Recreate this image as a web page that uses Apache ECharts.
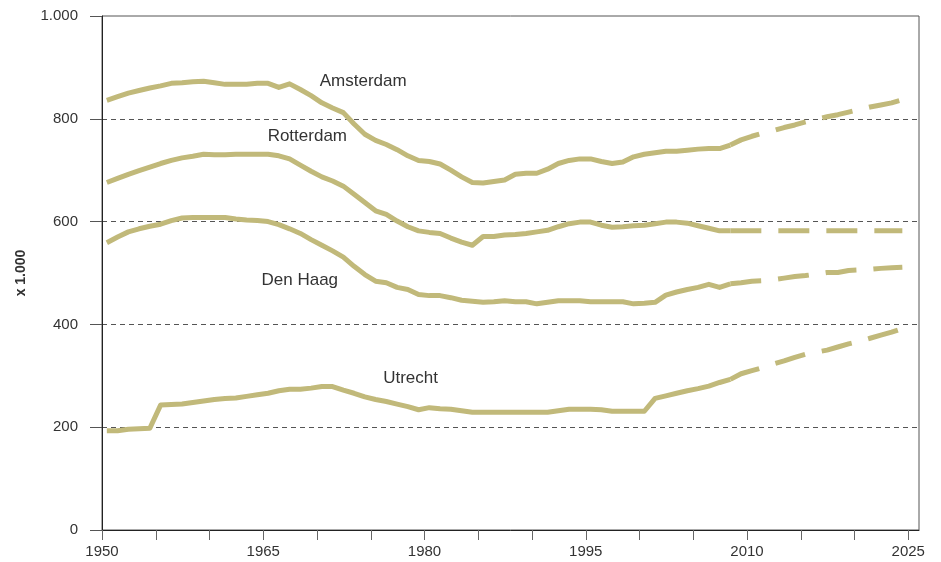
<!doctype html>
<html lang="nl">
<head>
    <meta charset="UTF-8">
    <script src="https://cdn.jsdelivr.net/npm/echarts@6/dist/echarts.min.js"></script>
    <title>Bevolking vier grote steden</title>
    <style>
        html, body { margin: 0; padding: 0; background: #fff; }
    </style>
</head>
<body>
<div id="steden" style="width: 941px;height:562px;"></div>
<script>
    // jaren 1950 t/m 2024, x 1.000 inwoners
    var firstYear = 1950;
    var projectionFrom = 2008; // vanaf hier gestippeld (prognose)
    var yearShift = 0.45;      // punten staan iets rechts van de jaarstreep

    var amsterdam = [
        836, 843, 850, 855, 860, 864, 869, 870, 872, 873,
        870, 867, 867, 867, 869, 869, 861, 868, 857, 845,
        831, 821, 812, 790, 770, 758, 750, 740, 728, 719,
        717, 712, 700, 687, 676, 675, 678, 681, 692, 694,
        694, 702, 713, 719, 722, 722, 717, 713, 716, 726,
        731, 734, 737, 737, 739, 741, 742, 742, 749, 759,
        766, 772, 777, 783, 788, 794, 799, 804, 808, 813,
        818, 823, 827, 831, 837
    ];
    var rotterdam = [
        676, 684, 692, 699, 706, 713, 719, 724, 727, 731,
        730, 730, 731, 731, 731, 731, 728, 722, 710, 698,
        687, 679, 669, 653, 637, 621, 614, 601, 590, 582,
        579, 577, 568, 560, 554, 571, 571, 574, 575, 577,
        580, 583, 590, 596, 599, 599, 593, 589, 590, 592,
        593, 596, 599, 599, 597, 592, 587, 582, 582, 582,
        582, 582, 582, 582, 582, 582, 582, 582, 582, 582,
        582, 582, 582, 582, 582
    ];
    var denHaag = [
        559, 570, 580, 586, 591, 595, 602, 607, 608, 608,
        608, 608, 605, 603, 602, 600, 594, 586, 577, 565,
        554, 543, 531, 513, 497, 484, 481, 472, 468, 458,
        456, 456, 452, 447, 445, 443, 444, 446, 444, 444,
        440, 443, 446, 446, 446, 444, 444, 444, 444, 440,
        441, 443, 457, 463, 468, 472, 478, 472, 479, 481,
        484, 485, 487, 490, 493, 495, 498, 501, 501, 505,
        506, 507, 509, 510, 511
    ];
    var utrecht = [
        193, 193, 196, 197, 198, 243, 244, 245, 248, 251,
        254, 256, 257, 260, 263, 266, 271, 274, 274, 276,
        279, 279, 272, 266, 259, 254, 250, 245, 240, 234,
        238, 236, 235, 232, 229, 229, 229, 229, 229, 229,
        229, 229, 232, 235, 235, 235, 234, 231, 231, 231,
        231, 256, 261, 266, 271, 275, 280, 287, 293, 304,
        310, 316, 323, 329, 336, 342, 346, 350, 356, 362,
        367, 373, 379, 385, 392
    ];

    var tickYears = [1950, 1955, 1960, 1965, 1970, 1975, 1980, 1985, 1990, 1995, 2000, 2005, 2010, 2015, 2020, 2025];
    var labelYears = [1950, 1965, 1980, 1995, 2010, 2025];

    var lineColor = '#c1b97a';
    var textColor = '#333';
    var fontFamily = '"Liberation Sans", Arial, Helvetica, sans-serif';

    function pairs(values, fromYear, toYear) {
        var out = [];
        for (var i = 0; i < values.length; i++) {
            var y = firstYear + i;
            if (y >= fromYear && y <= toYear) {
                out.push([y + yearShift, values[i]]);
            }
        }
        return out;
    }

    function citySeries(name, values, labelCoord) {
        return [{
            name: name,
            type: 'line',
            data: pairs(values, firstYear, projectionFrom),
            showSymbol: false,
            lineStyle: {color: lineColor, width: 5, cap: 'butt', join: 'round'},
            markPoint: {
                symbol: 'circle',
                symbolSize: 1,
                itemStyle: {color: 'rgba(0,0,0,0)'},
                label: {
                    show: true,
                    position: 'inside',
                    formatter: '{b}',
                    color: textColor,
                    fontSize: 17,
                    fontFamily: fontFamily
                },
                data: [{name: name, coord: labelCoord}]
            }
        }, {
            name: name + ' prognose',
            type: 'line',
            data: pairs(values, projectionFrom, 2100),
            showSymbol: false,
            lineStyle: {color: lineColor, width: 5, type: [31, 17], cap: 'butt'}
        }];
    }

    var myChart = echarts.init(document.getElementById('steden'));

    var series = []
        .concat(citySeries('Amsterdam', amsterdam, [1974.3, 872]))
        .concat(citySeries('Rotterdam', rotterdam, [1969.1, 765]))
        .concat(citySeries('Den Haag', denHaag, [1968.4, 486]))
        .concat(citySeries('Utrecht', utrecht, [1978.7, 296]));

    var option = {
        animation: false,
        backgroundColor: '#fff',
        grid: {
            left: 102, right: 22, top: 16, bottom: 32,
            show: true,
            borderColor: '#555',
            borderWidth: 1
        },
        xAxis: {
            type: 'value',
            min: 1950,
            max: 2026,
            axisLine: {show: true, lineStyle: {color: '#222', width: 1}},
            axisTick: {show: true, length: 10, customValues: tickYears, lineStyle: {color: '#666'}},
            axisLabel: {
                customValues: labelYears,
                margin: 14,
                color: textColor,
                fontSize: 15,
                fontFamily: fontFamily,
                formatter: function (v) {
                    return String(v);
                }
            },
            splitLine: {show: false}
        },
        yAxis: {
            type: 'value',
            min: 0,
            max: 1000,
            interval: 200,
            name: 'x 1.000',
            nameLocation: 'middle',
            nameGap: 74,
            nameTextStyle: {color: textColor, fontSize: 14, fontWeight: 'bold', fontFamily: fontFamily},
            axisLine: {show: true, lineStyle: {color: '#222', width: 1}},
            axisTick: {show: true, length: 12, lineStyle: {color: '#555'}},
            axisLabel: {
                margin: 24,
                color: textColor,
                fontSize: 15,
                fontFamily: fontFamily,
                formatter: function (v) {
                    return v >= 1000 ? '1.000' : String(v);
                }
            },
            splitLine: {
                show: true,
                showMinLine: false,
                showMaxLine: false,
                lineStyle: {color: '#555', type: [5, 4], width: 1}
            }
        },
        series: series
    };

    myChart.setOption(option);
</script>
</body>
</html>
